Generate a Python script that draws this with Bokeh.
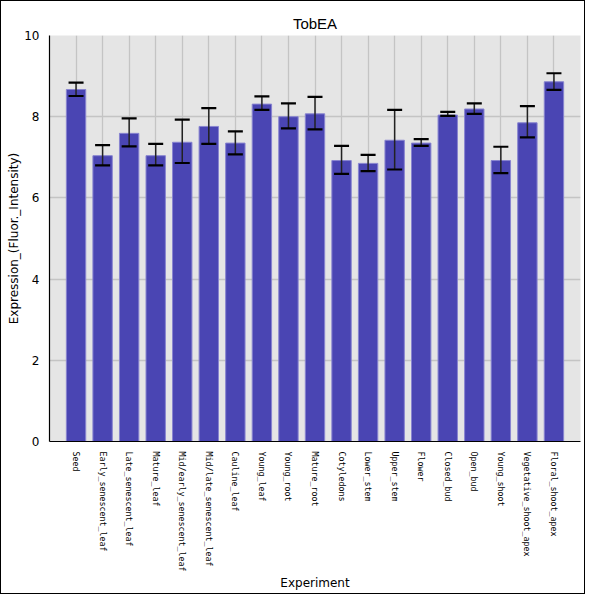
import math
from bokeh.plotting import figure
from bokeh.models import ColumnDataSource, Whisker, TeeHead, FactorRange, Range1d, FixedTicker
from bokeh.embed import file_html
from bokeh.resources import INLINE

categories = ["Seed", "Early_senescent_leaf", "Late_senescent_leaf", "Mature_leaf",
              "Mid/early_senescent_leaf", "Mid/late_senescent_leaf", "Cauline_leaf",
              "Young_leaf", "Young_root", "Mature_root", "Cotyledons", "Lower_stem",
              "Upper_stem", "Flower", "Closed_bud", "Open_bud", "Young_shoot",
              "Vegetative_shoot_apex", "Floral_shoot_apex"]
means = [8.67, 7.04, 7.59, 7.04, 7.37, 7.76, 7.35, 8.31, 8.00, 8.07,
         6.92, 6.85, 7.42, 7.35, 8.04, 8.19, 6.92, 7.85, 8.86]
err_upper = [8.84, 7.30, 7.96, 7.33, 7.93, 8.21, 7.64, 8.50, 8.33, 8.49,
             7.28, 7.06, 8.17, 7.45, 8.12, 8.33, 7.26, 8.26, 9.07]
err_lower = [8.51, 6.80, 7.27, 6.80, 6.86, 7.33, 7.07, 8.17, 7.71, 7.69,
             6.59, 6.66, 6.70, 7.28, 8.02, 8.07, 6.61, 7.49, 8.66]
y_ticks = [0, 2, 4, 6, 8, 10]

src = ColumnDataSource(dict(x=categories, top=means, upper=err_upper, lower=err_lower))

p = figure(width=584, height=584, output_backend="svg", toolbar_location=None,
           x_range=FactorRange(factors=categories, range_padding=0.5,
                               range_padding_units="absolute"),
           y_range=Range1d(0, 10),
           title="TobEA", min_border_left=48, min_border_right=4,
           min_border_top=34, min_border_bottom=4)
p.frame_width = 531
p.frame_height = 406

p.styles = {"border": "1px solid black", "box-sizing": "border-box"}
p.background_fill_color = "#e5e5e5"
p.border_fill_color = "white"
p.outline_line_color = None

p.title.align = "center"
p.title.text_font = "Liberation Sans"
p.title.text_font_size = "15px"
p.title.text_font_style = "normal"
p.title.text_color = "black"
p.title.standoff = 8

p.vbar(x="x", top="top", width=0.73, source=src,
       fill_color="#4a45b3", line_color="#8884d0", line_width=1)

w = Whisker(base="x", upper="upper", lower="lower", source=src, level="annotation",
            line_color="#222222", line_width=1.5,
            upper_head=TeeHead(size=15, line_width=2.2, line_color="black"),
            lower_head=TeeHead(size=15, line_width=2.2, line_color="black"))
p.add_layout(w)

p.xgrid.grid_line_color = "#c4c4c4"
p.ygrid.grid_line_color = "#c4c4c4"
p.xgrid.grid_line_width = 1.3
p.ygrid.grid_line_width = 1.3

p.yaxis.ticker = FixedTicker(ticks=y_ticks)
for ax in (p.xaxis[0], p.yaxis[0]):
    ax.major_tick_line_color = None
    ax.minor_tick_line_color = None
    ax.axis_line_color = "black"
    ax.axis_line_width = 1.2
    ax.major_label_text_font = "DejaVu Sans"
    ax.axis_label_text_font = "DejaVu Sans"
    ax.axis_label_text_font_style = "normal"
    ax.axis_label_text_font_size = "12px"
    ax.axis_label_text_color = "black"
    ax.major_label_text_color = "black"

p.xaxis.axis_label = "Experiment"
p.yaxis.axis_label = "Expression_(Fluor._Intensity)"
p.xaxis.major_label_orientation = -math.pi / 2
p.xaxis.major_label_text_font = "DejaVu Sans Mono"
p.xaxis.major_label_text_font_size = "8.3px"
p.xaxis.major_label_standoff = 4
p.xaxis.axis_label_standoff = 2
p.yaxis.major_label_text_font_size = "12px"
p.yaxis.major_label_standoff = 4
p.yaxis.axis_label_standoff = 0

open("out.html", "w").write(file_html(p, INLINE))
